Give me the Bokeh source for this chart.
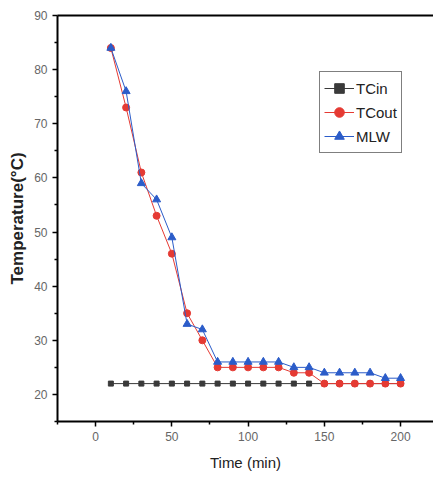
from bokeh.plotting import figure
from bokeh.models import Range1d, LinearAxis, Legend, LegendItem, FixedTicker
from bokeh.embed import file_html
from bokeh.resources import INLINE

time = [10, 20, 30, 40, 50, 60, 70, 80, 90, 100, 110, 120, 130, 140, 150, 160, 170, 180, 190, 200]
tc_in = [22] * 20
tc_out = [84, 73, 61, 53, 46, 35, 30, 25, 25, 25, 25, 25, 24, 24, 22, 22, 22, 22, 22, 22]
mlw = [84, 76, 59, 56, 49, 33, 32, 26, 26, 26, 26, 26, 25, 25, 24, 24, 24, 24, 23, 23]

x_ticks = [0, 50, 100, 150, 200]
y_ticks = [20, 30, 40, 50, 60, 70, 80, 90]

FONT = "Liberation Sans"

p = figure(width=433, height=482, output_backend="svg", toolbar_location=None,
           x_range=Range1d(-25, 221.6), y_range=Range1d(15, 90),
           min_border_left=57, min_border_right=0, min_border_top=15, min_border_bottom=61)
p.outline_line_color = None
p.grid.visible = False
p.background_fill_color = "white"

for ax in (p.xaxis[0], p.yaxis[0]):
    ax.axis_line_width = 2
    ax.axis_line_color = "black"
    ax.major_tick_line_width = 1.5
    ax.minor_tick_line_width = 1.5
    ax.major_tick_out = 5
    ax.major_tick_in = 0
    ax.minor_tick_out = 3
    ax.minor_tick_in = 0
    ax.major_label_text_font = FONT
    ax.major_label_text_font_size = "12px"
    ax.major_label_text_color = "#666666"
    ax.axis_label_text_font = FONT
    ax.axis_label_text_color = "#222222"

p.xaxis[0].ticker = FixedTicker(ticks=x_ticks, minor_ticks=[-25, 25, 75, 125, 175])
p.yaxis[0].ticker = FixedTicker(ticks=y_ticks, minor_ticks=[15, 25, 35, 45, 55, 65, 75, 85])
p.xaxis[0].axis_label = "Time (min)"
p.yaxis[0].axis_label = "Temperature(°C)"
p.xaxis[0].axis_label_standoff = 10
p.yaxis[0].axis_label_standoff = 4
p.xaxis[0].axis_label_text_font_size = "15px"
p.xaxis[0].axis_label_text_font_style = "normal"
p.yaxis[0].axis_label_text_font_size = "17px"
p.yaxis[0].axis_label_text_font_style = "bold"

top = LinearAxis(ticker=FixedTicker(ticks=[]), major_label_text_font_size="0px",
                 axis_line_width=2, axis_line_color="black", major_tick_line_color=None,
                 minor_tick_line_color=None)
p.add_layout(top, "above")

c_in = "#3a3a3a"
c_out = "#e53a33"
c_mlw = "#2b5cc9"

l1 = p.line(time, tc_in, line_color=c_in, line_width=1)
m1 = p.scatter(time, tc_in, marker="square", size=5, fill_color=c_in, line_color=c_in)
l2 = p.line(time, tc_out, line_color=c_out, line_width=1)
m2 = p.scatter(time, tc_out, marker="circle", size=7, fill_color=c_out, line_color=c_out)
l3 = p.line(time, mlw, line_color=c_mlw, line_width=1)
m3 = p.scatter(time, mlw, marker="triangle", size=8, fill_color=c_mlw, line_color=c_mlw)

legend = Legend(items=[LegendItem(label="TCin", renderers=[l1, m1]),
                       LegendItem(label="TCout", renderers=[l2, m2]),
                       LegendItem(label="MLW", renderers=[l3, m3])],
                location=(262, 268))
legend.border_line_color = "black"
legend.border_line_width = 1.5
legend.label_text_font = FONT
legend.label_text_font_size = "15px"
legend.label_text_color = "#222222"
legend.glyph_width = 30
legend.glyph_height = 24
legend.label_height = 24
legend.spacing = 0
legend.padding = 4
legend.margin = 0
legend.label_standoff = 2
legend.background_fill_color = "white"
p.add_layout(legend, "center")

open("out.html", "w").write(file_html(p, INLINE))
